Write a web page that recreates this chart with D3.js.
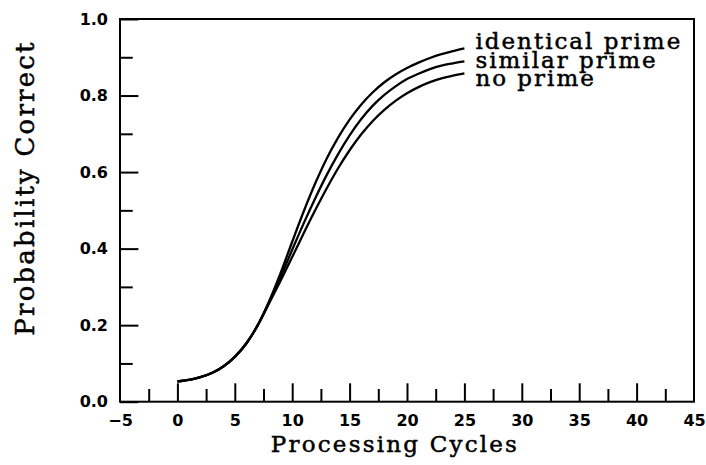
<!DOCTYPE html>
<html>
<head>
<meta charset="utf-8">
<script src="https://cdn.jsdelivr.net/npm/d3@7"></script>
<style>
    body {margin: 0; background: #fff;}
    .tickLabel text {font-family: "DejaVu Sans", sans-serif; font-weight: bold; font-size: 16px;}
    .title {font-family: "DejaVu Serif", serif; fill: #000; stroke: #000; stroke-width: 0.5px;}
</style>
</head>
<body>
<div class="wrapper"></div>
<script>
let svgWidth = 706;
let svgHeight = 465;

let cycles = [0, 1, 2, 3, 4, 5, 6, 7, 8, 9, 10, 11, 12, 13, 14, 15, 16, 17, 18, 19, 20, 21, 22, 23, 24, 25];
let identicalPrime = [0.053, 0.057, 0.064, 0.075, 0.092, 0.117, 0.152, 0.200, 0.263, 0.337, 0.418, 0.497, 0.570, 0.635, 0.690, 0.737, 0.776, 0.808, 0.834, 0.855, 0.872, 0.886, 0.898, 0.908, 0.916, 0.923];
let similarPrime = [0.053, 0.057, 0.064, 0.075, 0.092, 0.117, 0.152, 0.200, 0.260, 0.327, 0.397, 0.466, 0.531, 0.592, 0.647, 0.696, 0.738, 0.773, 0.801, 0.824, 0.843, 0.857, 0.869, 0.878, 0.884, 0.889];
let noPrime = [0.053, 0.057, 0.064, 0.075, 0.092, 0.117, 0.152, 0.200, 0.258, 0.317, 0.378, 0.440, 0.500, 0.557, 0.610, 0.657, 0.698, 0.733, 0.762, 0.786, 0.806, 0.822, 0.835, 0.845, 0.852, 0.858];
let seriesNames = ["identical prime", "similar prime", "no prime"];

let xMajorTicks = [-5, 0, 5, 10, 15, 20, 25, 30, 35, 40, 45];
let xMinorTicks = [-2.5, 2.5, 7.5, 12.5, 17.5, 22.5, 27.5, 32.5, 37.5, 42.5];
let yMajorTicks = [0, 0.2, 0.4, 0.6, 0.8, 1.0];
let yMinorTicks = [0.1, 0.3, 0.5, 0.7, 0.9];

let series = [identicalPrime, similarPrime, noPrime];

let svg = d3.select(".wrapper")
    .append("svg")
    .attr("width", svgWidth)
    .attr("height", svgHeight);

let x = d3.scaleLinear().domain([-5, 45]).range([120, 694]);
let y = d3.scaleLinear().domain([0, 1]).range([401.7, 19]);

// minor ticks first, majors on top
svg.append("g")
    .attr("transform", "translate(0," + y(0) + ")")
    .call(d3.axisBottom(x).tickValues(xMinorTicks).tickSize(-12.7).tickFormat(""));

svg.append("g")
    .classed("tickLabel", true)
    .attr("transform", "translate(0," + y(0) + ")")
    .call(d3.axisBottom(x).tickValues(xMajorTicks).tickSize(-18.4).tickPadding(13).tickFormat(d3.format("d")));

svg.append("g")
    .attr("transform", "translate(" + x(-5) + ",0)")
    .call(d3.axisLeft(y).tickValues(yMinorTicks).tickSize(-12.7).tickFormat(""));

svg.append("g")
    .classed("tickLabel", true)
    .attr("transform", "translate(" + x(-5) + ",0)")
    .call(d3.axisLeft(y).tickValues(yMajorTicks).tickSize(-18.4).tickPadding(12).tickFormat(d3.format(".1f")));

svg.selectAll(".domain").remove();
svg.selectAll(".tick line").attr("stroke", "#000").attr("stroke-width", 2);
svg.selectAll(".tick text").attr("fill", "#000");
// the corner ticks sit on the frame
svg.selectAll(".tick").filter(function (d) {return d === -5 || d === 45;}).select("line").remove();

svg.append("rect")
    .attr("x", x(-5))
    .attr("y", y(1))
    .attr("width", x(45) - x(-5))
    .attr("height", y(0) - y(1))
    .attr("fill", "none")
    .attr("stroke", "#000")
    .attr("stroke-width", 2);

let line = d3.line()
    .x(function (d, i) {return x(cycles[i])})
    .y(function (d) {return y(d)})
    .curve(d3.curveMonotoneX);

svg.selectAll(".curve")
    .data(series)
    .enter()
    .append("path")
    .classed("curve", true)
    .attr("d", line)
    .attr("fill", "none")
    .attr("stroke", "#000")
    .attr("stroke-width", 2.3);

svg.selectAll(".seriesLabel")
    .data(seriesNames)
    .enter()
    .append("text")
    .classed("title", true)
    .attr("x", x(25) + 11)
    .attr("y", function (d, i) {return y(identicalPrime[identicalPrime.length - 1]) + 1 + i * 18.5})
    .attr("font-size", "23px")
    .attr("letter-spacing", "2px")
    .text(function (d) {return d});

svg.append("text")
    .classed("title", true)
    .attr("x", 395)
    .attr("y", 452)
    .attr("text-anchor", "middle")
    .attr("font-size", "23px")
    .attr("letter-spacing", "2.2px")
    .text("Processing Cycles");

svg.append("text")
    .classed("title", true)
    .attr("transform", "translate(34,188) rotate(-90)")
    .attr("text-anchor", "middle")
    .attr("font-size", "26px")
    .attr("letter-spacing", "2.2px")
    .text("Probability Correct");
</script>
</body>
</html>
